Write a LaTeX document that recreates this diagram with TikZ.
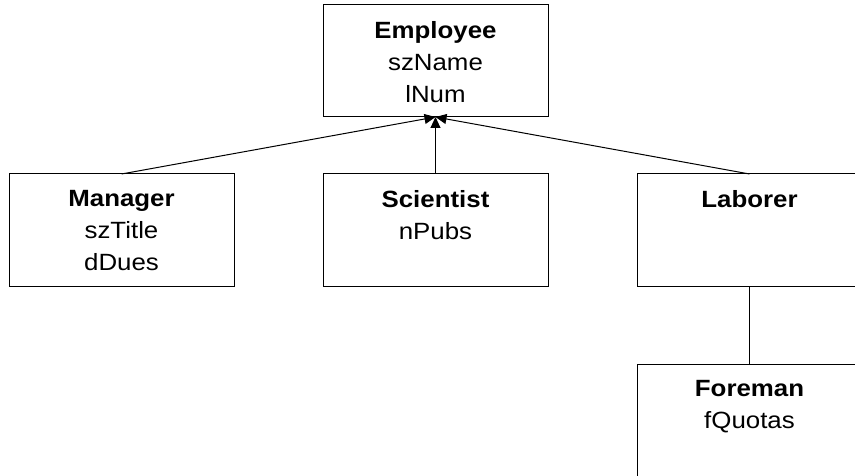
\documentclass[tikz,border=0pt]{standalone}
\usepackage{fontspec}
\setmainfont[FakeStretch=1.1]{Liberation Sans}
\usetikzlibrary{arrows.meta}
\tikzset{
  clsbox/.style={draw=black, line width=1pt, minimum width=225pt, minimum height=112pt, inner sep=0pt, outer sep=0pt},
  clslbl/.style={anchor=north, inner sep=0pt, yshift=-16.5pt, align=center, font=\fontsize{23.5}{32}\selectfont},
  inherit/.style={line width=1pt, -{Triangle[length=11pt,width=10pt]}},
  plainline/.style={line width=1pt},
}
\begin{document}
\begin{tikzpicture}[x=1pt,y=1pt]
\useasboundingbox (0,0) rectangle (855,-476);
\node[clsbox, label={[clslbl]north:{\textbf{Employee}\\szName\\lNum}}] (emp) at (435.5,-61) {};
\node[clsbox, label={[clslbl]north:{\textbf{Manager}\\szTitle\\dDues}}] (man) at (121.5,-230) {};
\node[clsbox, label={[clslbl]north:{\textbf{Scientist}\\nPubs}}] (sci) at (435.5,-230) {};
\node[clsbox, label={[clslbl]north:{\textbf{Laborer}}}] (lab) at (749.5,-230) {};
\node[clsbox, minimum height=124pt, label={[clslbl]north:{\textbf{Foreman}\\fQuotas}}] (fore) at (749.5,-426) {};
\draw[inherit] (man.north) -- (emp.south);
\draw[inherit] (sci.north) -- (emp.south);
\draw[inherit] (lab.north) -- (emp.south);
\draw[plainline] (lab.south) -- (fore.north);
\end{tikzpicture}
\end{document}
